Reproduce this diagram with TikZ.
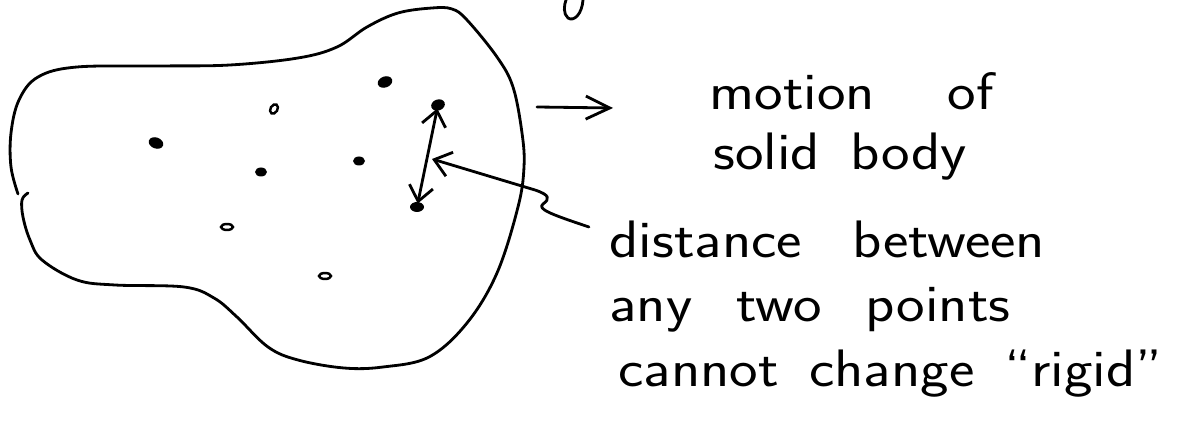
\documentclass[tikz,border=0pt]{standalone}
\usetikzlibrary{arrows.meta}
\newcommand\wgap[1][22pt]{\hspace*{#1}}
\begin{document}
\begin{tikzpicture}[x=0.02cm,y=-0.02cm,
  pen/.style={line width=1.6pt, line cap=round, line join=round},
  barb/.style={pen, -{Straight Barb[length=0.32cm,width=0.5cm,line width=1.6pt]}},
  dbarb/.style={pen, {Straight Barb[length=0.3cm,width=0.48cm,line width=1.6pt]}-{Straight Barb[length=0.3cm,width=0.48cm,line width=1.6pt]}},
  bigbarb/.style={pen, -{Straight Barb[length=0.48cm,width=0.46cm,line width=1.6pt]}},
  hand/.style={anchor=base west, inner sep=0pt, xscale=1.15,
    font=\sffamily\fontsize{30}{36}\selectfont},
  dotfill/.style={fill=black},
  dotring/.style={draw=black, line width=1.4pt}]
\useasboundingbox (0,0) rectangle (1183,421);

% partial letter at top
\draw[pen] (583,0) .. controls (582,14) and (574,22) .. (568,18) .. controls (563,14) and (564,5) .. (566,0);

% blob outline (with small break on the left)
\draw[pen] plot[smooth, tension=0.6] coordinates {
 (18,194) (11,167) (11,133) (19,100) (38,77) (77,67) (160,66) (230,65) (298,58) (337,47)
 (367,27) (398,13) (432,8) (452,9) (467,20) (497,57) (513,87) (522,133) (524,167)
 (518,207) (497,273) (467,323) (429,357) (383,367) (344,368) (298,360) (268,347)
 (237,317) (214,298) (184,287) (115,285) (77,280) (42,260) (30,240) (23,217) (22,200) (28,193)};

% points of the body
\coordinate (dA) at (438,105);
\coordinate (dB) at (417,207);
\fill[dotfill, rotate around={20:(385,82)}] (385,82) ellipse [x radius=7.5, y radius=5.5];
\fill[dotfill, rotate around={20:(dA)}] (dA) ellipse [x radius=7, y radius=5.5];
\fill[dotfill, rotate around={-20:(156,143)}] (156,143) ellipse [x radius=7.5, y radius=5.5];
\fill[dotfill] (261,172) ellipse [x radius=6, y radius=4.5];
\fill[dotfill] (359,161) ellipse [x radius=6, y radius=4.5];
\fill[dotfill] (dB) ellipse [x radius=7, y radius=5];
\draw[dotring, rotate around={-30:(274,109)}] (274,109) ellipse [x radius=3.5, y radius=5];
\draw[dotring] (227,227) ellipse [x radius=6, y radius=3];
\draw[dotring] (325,276) ellipse [x radius=6, y radius=3];

% double arrow between two points
\draw[dbarb, shorten <=2pt, shorten >=2pt] (dA) -- (dB);

% texts
\node[hand] (motion) at (709,110) {motion\wgap[36pt]of};
\node[hand] (solid)  at (713,170) {solid\wgap[15pt]body};
\node[hand] (dist)   at (609,258) {distance\wgap[25pt]between};
\node[hand] (any)    at (609,322) {any\wgap two\wgap points};
\node[hand] (cannot) at (618,387) {cannot\wgap[15pt]change\wgap[15pt]``rigid''};

% arrow from body to "motion of solid body"
\coordinate (mstart) at (537,107);
\coordinate (mend) at (613,108);
\draw[bigbarb] (mstart) -- (mend);

% curly connector from "distance ..." to the double arrow
\coordinate (ctail) at (589,227);
\coordinate (ctip) at (432,159);
\draw[barb] (ctail) .. controls (550,214) and (537,209) .. (543,204)
            .. controls (550,199) and (550,195) .. (535,190) -- (ctip);
\end{tikzpicture}
\end{document}
